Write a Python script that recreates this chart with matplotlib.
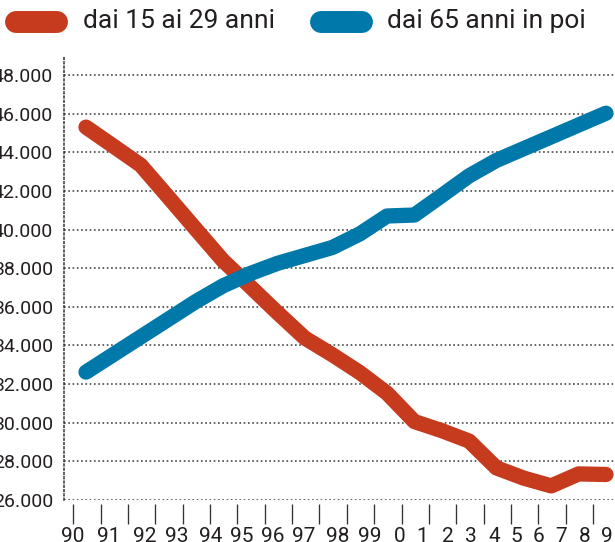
import matplotlib
matplotlib.use("Agg")
import matplotlib.pyplot as plt
from matplotlib.lines import Line2D

# data (thousands)
years = list(range(1990, 2010))
giovani = [45.30, 44.32, 43.33, 41.69, 40.04, 38.40, 37.05, 35.69, 34.38, 33.52,
           32.60, 31.53, 30.06, 29.59, 29.05, 27.66, 27.13, 26.73, 27.35, 27.32]
anziani = [32.62, 33.53, 34.44, 35.35, 36.26, 37.08, 37.72, 38.25, 38.66, 39.07,
           39.77, 40.70, 40.75, 41.76, 42.78, 43.58, 44.19, 44.80, 45.41, 46.02]
yticks = list(range(26, 49, 2))
xlabels = ["90", "91", "92", "93", "94", "95", "96", "97", "98", "99",
           "0", "1", "2", "3", "4", "5", "6", "7", "8", "9"]
# label centres in pixels (they don't sit under the ticks in the original)
xlabel_px = [73, 109, 145, 177, 211, 242, 273, 304, 338, 370,
             400, 422, 448, 471, 494, 516, 538, 561, 585, 607]

ROSSO = "#C63A1E"
BLU = "#0079AA"
TESTO = "#231F20"
plt.rcParams["font.family"] = ["Roboto", "DejaVu Sans"]

W, H = 615, 542
fig = plt.figure(figsize=(W / 100, H / 100), dpi=100)
ax = fig.add_axes([64 / W, 42 / H, 1 - 64 / W, 443 / H])

ax.plot(years, giovani, color=ROSSO, lw=11, solid_capstyle="round",
        solid_joinstyle="round")
ax.plot(years, anziani, color=BLU, lw=11, solid_capstyle="round",
        solid_joinstyle="round")

ax.set_xlim(1989.196, 2009.33)
ax.set_ylim(26, 26 + 443 / 19.32)

ax.set_yticks(yticks)
ax.set_yticklabels([f"{v}.000" for v in yticks], fontsize=14, color=TESTO)
ax.tick_params(axis="y", length=0, pad=7.9)
ax.yaxis.grid(True, linestyle=(0, (1.1, 1.7)), color="#3a3a3a", lw=1.1)

ax.set_xticks([y - 0.47 for y in years])
ax.set_xticklabels([])
ax.tick_params(axis="x", direction="out", length=14.4, width=0.95, color="#333333")
ax.spines["bottom"].set_position(("outward", 3))
ax.spines["bottom"].set_visible(False)
ax.spines["top"].set_visible(False)
ax.spines["right"].set_visible(False)
ax.spines["left"].set_linestyle((0, (1.1, 1.7)))
ax.spines["left"].set_color("#333333")
ax.spines["left"].set_linewidth(1.1)

for lab, px in zip(xlabels, xlabel_px):
    fig.text(px / W, 1 - 536.5 / H, lab, ha="center", va="center",
             fontsize=15, color=TESTO)

# legend: rounded pills + text
ly = 1 - 22 / H
for x0, x1, col, tx, lab in [(16, 57, ROSSO, 83, "dai 15 ai 29 anni"),
                             (321, 362, BLU, 387, "dai 65 anni in poi")]:
    fig.add_artist(Line2D([x0 / W, x1 / W], [ly, ly], color=col, lw=15.8,
                          solid_capstyle="round", transform=fig.transFigure))
    fig.text(tx / W, ly + 0.002, lab, ha="left", va="center", fontsize=19,
             color=TESTO)

fig.savefig("out.png", dpi=100)
